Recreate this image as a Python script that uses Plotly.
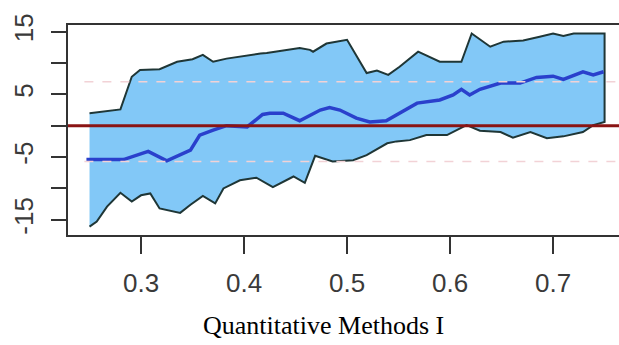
import plotly.graph_objects as go

# ---- data ----
upper_x = [0.250, 0.280, 0.291, 0.299, 0.318, 0.335, 0.350, 0.360, 0.370, 0.383,
           0.416, 0.422, 0.454, 0.464, 0.467, 0.480, 0.500, 0.519, 0.529, 0.540,
           0.551, 0.569, 0.590, 0.611, 0.621, 0.639, 0.652, 0.671, 0.687, 0.700,
           0.710, 0.720, 0.750]
upper_y = [2.0, 2.6, 7.8, 8.9, 9.0, 10.2, 10.6, 11.3, 10.2, 10.7,
           11.5, 11.6, 12.4, 12.1, 11.8, 13.1, 13.7, 8.4, 8.8, 8.1,
           9.4, 11.8, 10.2, 10.2, 14.7, 12.6, 13.4, 13.6, 14.2, 14.7,
           14.3, 14.7, 14.7]

lower_x = [0.250, 0.257, 0.267, 0.280, 0.291, 0.300, 0.309, 0.318, 0.338, 0.348,
           0.360, 0.372, 0.380, 0.396, 0.412, 0.428, 0.448, 0.459, 0.469, 0.486,
           0.506, 0.519, 0.539, 0.548, 0.561, 0.577, 0.597, 0.616, 0.629, 0.649,
           0.661, 0.678, 0.694, 0.710, 0.729, 0.739, 0.750]
lower_y = [-16.1, -15.3, -12.9, -10.7, -12.1, -11.1, -10.8, -13.2, -13.9, -12.6,
           -11.2, -12.4, -10.0, -8.7, -8.3, -9.8, -8.1, -9.1, -4.8, -5.7,
           -5.5, -4.7, -2.8, -2.5, -2.3, -1.5, -1.5, 0.1, -0.8, -1.0,
           -1.9, -1.0, -2.0, -1.7, -1.0, 0.1, 0.6]

mean_x = [0.247, 0.283, 0.307, 0.325, 0.348, 0.357, 0.370, 0.383, 0.403, 0.418,
          0.425, 0.438, 0.454, 0.474, 0.483, 0.493, 0.509, 0.522, 0.538, 0.551,
          0.568, 0.590, 0.603, 0.611, 0.619, 0.629, 0.649, 0.668, 0.684, 0.700,
          0.710, 0.729, 0.739, 0.749]
mean_y = [-5.4, -5.4, -4.1, -5.6, -3.9, -1.5, -0.7, 0.0, -0.2, 1.8,
          2.0, 2.0, 0.8, 2.5, 2.9, 2.5, 1.2, 0.6, 0.8, 2.0,
          3.6, 4.1, 4.9, 5.8, 4.9, 5.8, 6.8, 6.8, 7.7, 7.9,
          7.4, 8.6, 8.1, 8.6]

ref_zero = 0.0
ref_hi = 7.0
ref_lo = -5.7

x_tickvals = [0.3, 0.4, 0.5, 0.6, 0.7]
x_ticktext = ["0.3", "0.4", "0.5", "0.6", "0.7"]
y_tickvals = [-15, -10, -5, 0, 5, 10, 15]
y_ticktext = ["-15", "", "-5", "", "5", "", "15"]

title_text = "Quantitative Methods I"

# ---- figure ----
fig = go.Figure()

band_x = upper_x + lower_x[::-1]
band_y = upper_y + lower_y[::-1]
fig.add_trace(go.Scatter(
    x=band_x, y=band_y, mode="lines", fill="toself",
    fillcolor="#82c8f7", line=dict(color="#1f3636", width=2),
    hoverinfo="skip", showlegend=False))

fig.add_trace(go.Scatter(
    x=mean_x, y=mean_y, mode="lines",
    line=dict(color="#2a40cc", width=3.5),
    showlegend=False))

x_range = [0.2291, 0.764]
y_range = [-17.43, 16.06]

shapes = []
for yv in (ref_hi, ref_lo):
    shapes.append(dict(type="line", xref="x", yref="y",
                       x0=0.245, x1=x_range[1], y0=yv, y1=yv,
                       line=dict(color="#f2d2d6", width=1.5, dash="dash"),
                       layer="above"))
shapes.append(dict(type="line", xref="paper", yref="y",
                   x0=0, x1=1, y0=ref_zero, y1=ref_zero,
                   line=dict(color="#8a1414", width=3), layer="above"))

fig.update_layout(
    width=619, height=345,
    margin=dict(l=68, r=0, t=25, b=110),
    paper_bgcolor="white", plot_bgcolor="white",
    shapes=shapes,
    showlegend=False,
    annotations=[dict(text=title_text, xref="paper", yref="paper",
                      x=(323.5 - 68) / 551, y=(235 - 325) / 210,
                      xanchor="center", yanchor="middle", showarrow=False,
                      font=dict(family="Liberation Serif", size=26, color="black"))],
)

fig.update_xaxes(
    range=x_range, tickvals=x_tickvals, ticktext=x_ticktext,
    showgrid=False, zeroline=False,
    showline=True, linecolor="#333333", linewidth=2, mirror=True,
    ticks="outside", ticklen=17, tickwidth=2, tickcolor="#333333",
    ticklabelstandoff=7,
    tickfont=dict(family="Liberation Sans", size=26, color="#3a3a3a"))

fig.update_yaxes(
    range=y_range, tickvals=y_tickvals, ticktext=y_ticktext,
    showgrid=False, zeroline=False,
    showline=True, linecolor="#333333", linewidth=2, mirror=False,
    ticks="outside", ticklen=15, tickwidth=2, tickcolor="#333333",
    tickangle=-90, ticklabelstandoff=8,
    tickfont=dict(family="Liberation Sans", size=26, color="#3a3a3a"))

fig.write_html("out.html")
